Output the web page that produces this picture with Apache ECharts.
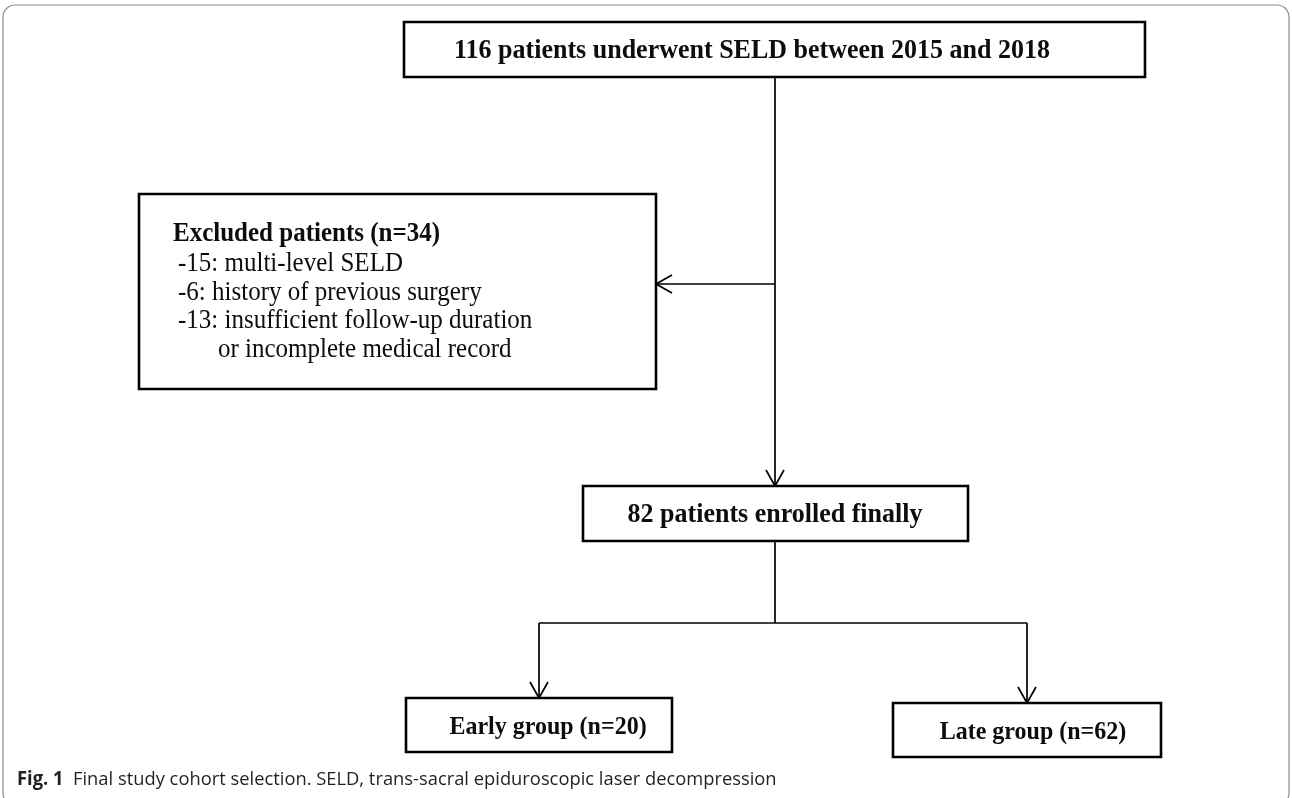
<!DOCTYPE html>
<html>
<head>
<meta charset="utf-8"/>
<title>Study cohort flowchart</title>
<script src="https://cdn.jsdelivr.net/npm/echarts@6/dist/echarts.min.js"></script>
<style>
  html, body { margin: 0; padding: 0; background: #fff; }
  #main { width: 1292px; height: 798px; }
</style>
</head>
<body>
<div id="main"></div>
<script type="text/javascript">
// flowchart content (counts and labels)
var totalLabel = '116 patients underwent SELD between 2015 and 2018';
var excludedTitle = 'Excluded patients (n=34)';
var excludedReasons = ['-15: multi-level SELD', '-6: history of previous surgery',
                       '-13: insufficient follow-up duration', 'or incomplete medical record'];
var enrolledLabel = '82 patients enrolled finally';
var groupLabels = ['Early group (n=20)', 'Late group (n=62)'];
var captionBold = 'Fig. 1';
var captionText = 'Final study cohort selection. SELD, trans-sacral epiduroscopic laser decompression';

// layout in diagram units (axis 0..1292 x 0..798, y downwards)
var serif = "'Liberation Serif', 'Times New Roman', serif";
var boxes = [
  { rect: [404, 22, 1145, 77], lines: [{ t: totalLabel, x: 752, y: 51, size: 26, bold: true, align: 'center' }] },
  { rect: [139, 194, 656, 389], lines: [
      { t: excludedTitle, x: 173, y: 234, size: 25, bold: true },
      { t: excludedReasons[0], x: 178, y: 264, size: 25 },
      { t: excludedReasons[1], x: 178, y: 293, size: 25 },
      { t: excludedReasons[2], x: 178, y: 321, size: 25 },
      { t: excludedReasons[3], x: 218, y: 350, size: 25 }
  ] },
  { rect: [583, 486, 968, 541], lines: [{ t: enrolledLabel, x: 775, y: 515, size: 26, bold: true, align: 'center' }] },
  { rect: [406, 698, 672, 752], lines: [{ t: groupLabels[0], x: 548, y: 727, size: 24, bold: true, align: 'center' }] },
  { rect: [893, 703, 1161, 757], lines: [{ t: groupLabels[1], x: 1033, y: 732, size: 24, bold: true, align: 'center' }] }
];
// connectors: x1, y1, x2, y2, arrow (1 = arrow head at end)
var links = [
  [775, 77, 775, 486, 1],
  [775, 284, 656, 284, 1],
  [775, 541, 775, 623, 0],
  [539, 623, 1027, 623, 0],
  [539, 623, 539, 698, 1],
  [1027, 623, 1027, 703, 1]
];

var chart = echarts.init(document.getElementById('main'));

function renderBox(params, api) {
  var b = boxes[api.value(4)];
  var p0 = api.coord([api.value(0), api.value(1)]);
  var p1 = api.coord([api.value(2), api.value(3)]);
  var children = [{
    type: 'rect',
    shape: { x: p0[0], y: p0[1], width: p1[0] - p0[0], height: p1[1] - p0[1] },
    style: { fill: '#fff', stroke: '#000', lineWidth: 2.6 }
  }];
  b.lines.forEach(function (ln) {
    var p = api.coord([ln.x, ln.y]);
    children.push({
      type: 'text',
      x: p[0], y: p[1],
      scaleY: 1.08,
      style: {
        text: ln.t,
        fontFamily: serif,
        fontSize: ln.size,
        fontWeight: ln.bold ? 'bold' : 'normal',
        fill: '#0d0d0d',
        align: ln.align || 'left',
        verticalAlign: 'middle'
      }
    });
  });
  return { type: 'group', children: children };
}

function renderLink(params, api) {
  var a = api.coord([api.value(0), api.value(1)]);
  var b = api.coord([api.value(2), api.value(3)]);
  var children = [{
    type: 'line',
    shape: { x1: a[0], y1: a[1], x2: b[0], y2: b[1] },
    style: { stroke: '#000', lineWidth: 1.7 }
  }];
  if (api.value(4)) {
    var dx = b[0] - a[0], dy = b[1] - a[1];
    var len = Math.sqrt(dx * dx + dy * dy);
    var ux = dx / len, uy = dy / len;
    var back = 16, half = 9;
    children.push({
      type: 'polyline',
      shape: { points: [
        [b[0] - ux * back - uy * half, b[1] - uy * back + ux * half],
        [b[0], b[1]],
        [b[0] - ux * back + uy * half, b[1] - uy * back - ux * half]
      ] },
      style: { stroke: '#000', lineWidth: 1.7, fill: null }
    });
  }
  return { type: 'group', children: children };
}

var capFont = "'Open Sans', 'Noto Sans', sans-serif";
var option = {
  animation: false,
  backgroundColor: '#fff',
  grid: { left: 0, right: 0, top: 0, bottom: 0 },
  xAxis: { type: 'value', min: 0, max: 1292, show: false },
  yAxis: { type: 'value', min: 0, max: 798, inverse: true, show: false },
  graphic: [
    {
      type: 'rect',
      shape: { x: 3, y: 5, width: 1286, height: 800, r: 12 },
      style: { fill: 'none', stroke: '#8c8c8c', lineWidth: 1.2 },
      z: -10
    },
    {
      type: 'text',
      x: 17, y: 780,
      scaleX: 0.965,
      style: {
        text: '{b|' + captionBold + '}  ' + captionText,
        fontFamily: capFont,
        fontSize: 19,
        fill: '#231f20',
        verticalAlign: 'middle',
        rich: {
          b: { fontFamily: capFont, fontSize: 19, fontWeight: 'bold', fill: '#231f20' }
        }
      }
    }
  ],
  series: [
    {
      type: 'custom',
      coordinateSystem: 'cartesian2d',
      silent: true,
      z: 1,
      data: links,
      renderItem: renderLink
    },
    {
      type: 'custom',
      coordinateSystem: 'cartesian2d',
      silent: true,
      z: 2,
      data: boxes.map(function (b, i) { return [b.rect[0], b.rect[1], b.rect[2], b.rect[3], i]; }),
      renderItem: renderBox
    }
  ]
};
chart.setOption(option);
</script>
</body>
</html>
